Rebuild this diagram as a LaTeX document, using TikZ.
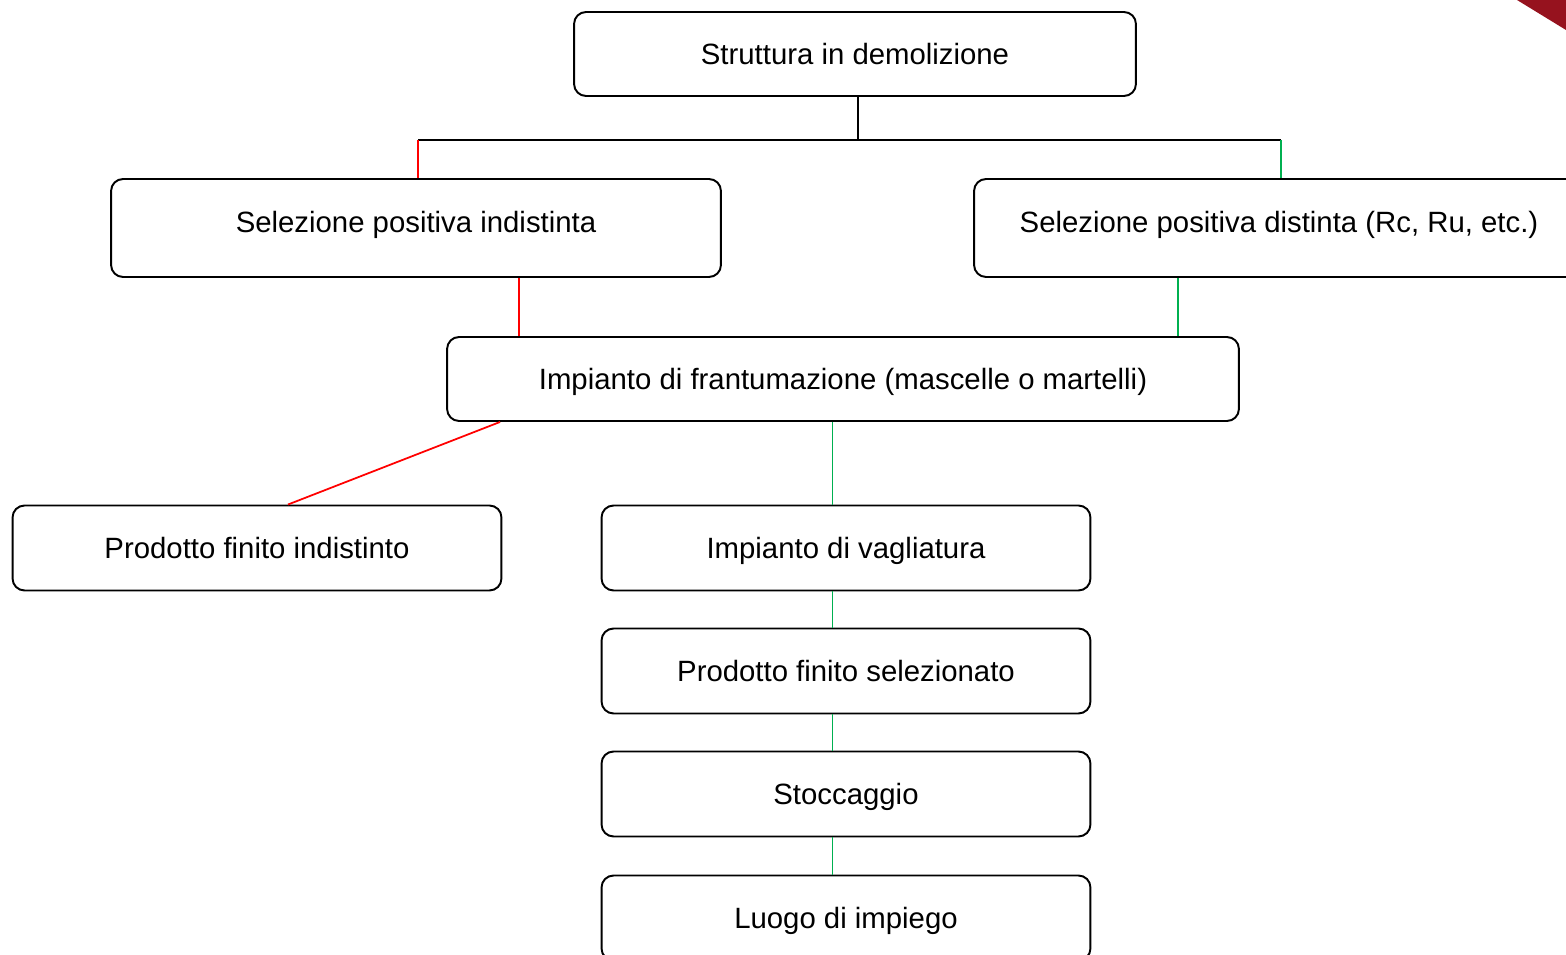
\documentclass[tikz,border=0pt]{standalone}
\usepackage{fontspec}
\setmainfont{Liberation Sans}
\usetikzlibrary{calc}
\definecolor{linered}{RGB}{255,0,0}
\definecolor{linegreen}{RGB}{0,176,80}
\definecolor{cornerred}{RGB}{150,18,30}
\tikzset{
    boxbase/.style={ % stile di base dei riquadri
        draw,
        line width=1.1pt,
        rounded corners=0.24cm,
        align=center,
        text height=14pt,
        text depth=2pt,
        font=\fontsize{16.7}{20}\selectfont
    },
    box_a/.style={ % riquadri stretti
        boxbase,
        minimum width=9.78cm,
        minimum height=1.7cm
    },
    box_wide/.style={ % riquadri larghi
        boxbase,
        minimum height=1.68cm
    },
    box_sel/.style={ % riquadri di selezione, testo un po' piu' in alto
        boxbase,
        minimum width=12.2cm,
        minimum height=1.96cm,
        text depth=8.8pt
    },
    link_black/.style={line width=1pt, black}, % collegamento nero
    link_red/.style={line width=1pt, linered}, % ramo rosso
    link_green/.style={line width=1pt, linegreen} % ramo verde
}
\begin{document}
\begin{tikzpicture}[x=0.02cm, y=-0.02cm]

        \useasboundingbox (0,0) rectangle (1566,955);
        \fill[cornerred] (1517,0) -- (1566,0) -- (1566,30) -- cycle;

        \node [box_wide, minimum width=11.24cm] (top) at (855,54) {Struttura in demolizione};
        \node [box_sel] (sel1) at (416,228) {Selezione positiva indistinta};
        \node [box_sel] (sel2) at (1279,228) {Selezione positiva distinta (Rc, Ru, etc.)};
        \node [box_wide, minimum width=15.84cm] (frant) at (843,379) {Impianto di frantumazione (mascelle o martelli)};
        \node [box_a] (prodind) at (257,548) {Prodotto finito indistinto};
        \node [box_a] (vagl) at (846,548) {Impianto di vagliatura};
        \node [box_a] (prodsel) at (846,671) {Prodotto finito selezionato};
        \node [box_a] (stocc) at (846,794) {Stoccaggio};
        \node [box_a] (luogo) at (846,918) {Luogo di impiego};

        \coordinate (bus) at (858,140);
        \draw[link_black] ([xshift=0.06cm]top.south) -- (bus);
        \draw[link_black] ([xshift=0.04cm]sel1.north |- bus) -- ([xshift=0.04cm]sel2.north |- bus);
        \draw[link_red] ([xshift=0.04cm]sel1.north |- bus) -- ([xshift=0.04cm]sel1.north);
        \draw[link_green] ([xshift=0.04cm]sel2.north |- bus) -- ([xshift=0.04cm]sel2.north);

        \draw[link_red] ([xshift=2.06cm]sel1.south) -- ([xshift=2.06cm]sel1.south |- frant.north);
        \draw[link_green] ([xshift=-2.02cm]sel2.south) -- ([xshift=-2.02cm]sel2.south |- frant.north);

        \draw[link_red] ([xshift=-6.86cm]frant.south) -- ([xshift=0.62cm]prodind.north);
        \draw[link_green] ([xshift=-0.27cm]vagl.north |- frant.south) -- ([xshift=-0.27cm]vagl.north);
        \foreach \a/\b in {vagl/prodsel, prodsel/stocc, stocc/luogo}
            \draw[link_green] ([xshift=-0.27cm]\a.south) -- ([xshift=-0.27cm]\b.north);

\end{tikzpicture}
\end{document}
